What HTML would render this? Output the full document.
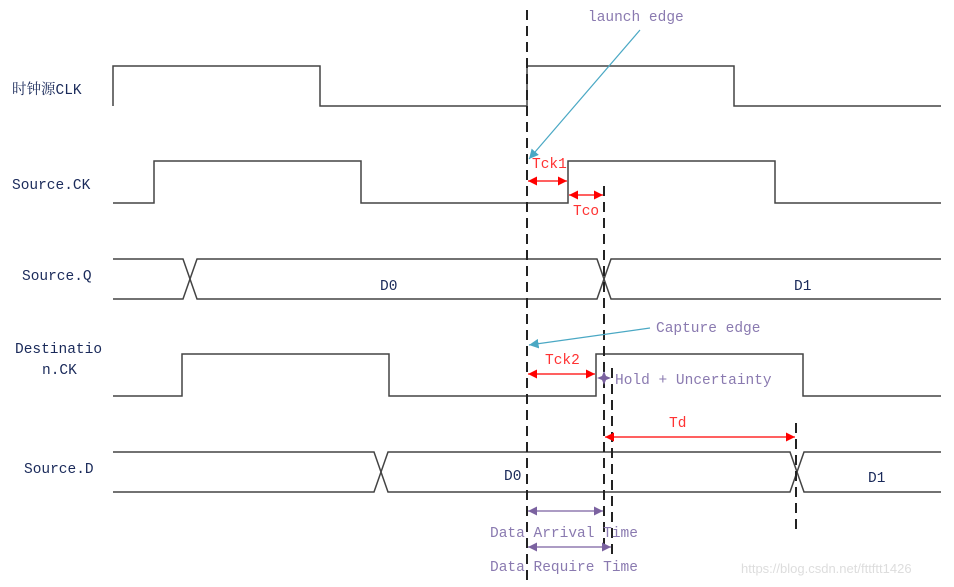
<!DOCTYPE html>
<html><head><meta charset="utf-8"><style>
html,body{margin:0;padding:0;background:#fff}
svg{display:block}
text{font-family:"Liberation Mono","Noto Serif CJK SC",monospace;font-size:14.5px}
</style></head><body>
<svg width="954" height="587" viewBox="0 0 954 587" xmlns="http://www.w3.org/2000/svg">
<defs>
<marker id="ar" viewBox="0 0 10 10" refX="10" refY="5" markerWidth="7" markerHeight="7" orient="auto-start-reverse"><path d="M0,0L10,5L0,10z" fill="#f00"/></marker>
<marker id="ap" viewBox="0 0 10 10" refX="10" refY="5" markerWidth="7" markerHeight="7" orient="auto-start-reverse"><path d="M0,0L10,5L0,10z" fill="#7b62a0"/></marker>
<marker id="ab" viewBox="0 0 10 10" refX="10" refY="5" markerWidth="8" markerHeight="8" orient="auto"><path d="M0,0L10,5L0,10z" fill="#4aa8c4"/></marker>
</defs>
<g fill="none" stroke="#444" stroke-width="1.5">
<polyline points="113,106 113,66 320,66 320,106 527,106 527,66 734,66 734,106 941,106"/>
<polyline points="113,203 154,203 154,161 361,161 361,203 568,203 568,161 775,161 775,203 941,203"/>
<polyline points="113,259 183,259 197,299 597,299 611,259 941,259"/>
<polyline points="113,299 183,299 197,259 597,259 611,299 941,299"/>
<polyline points="113,396 182,396 182,354 389,354 389,396 596,396 596,354 803,354 803,396 941,396"/>
<polyline points="113,452 374,452 388,492 790,492 804,452 941,452"/>
<polyline points="113,492 374,492 388,452 790,452 804,492 941,492"/>
</g>
<g stroke="#222" stroke-width="2" stroke-dasharray="10,6" fill="none">
<line x1="527" y1="10" x2="527" y2="580"/>
<line x1="604" y1="186" x2="604" y2="545"/>
<line x1="612" y1="368" x2="612" y2="560"/>
<line x1="796" y1="423" x2="796" y2="535"/>
</g>
<g stroke="#f00" stroke-width="1.3">
<line x1="528" y1="181" x2="567" y2="181" marker-start="url(#ar)" marker-end="url(#ar)"/>
<line x1="569" y1="195" x2="603" y2="195" marker-start="url(#ar)" marker-end="url(#ar)"/>
<line x1="528" y1="374" x2="595" y2="374" marker-start="url(#ar)" marker-end="url(#ar)"/>
<line x1="605" y1="437" x2="795" y2="437" marker-start="url(#ar)" marker-end="url(#ar)"/>
</g>
<g stroke="#7b62a0" stroke-width="1.3">
<line x1="528" y1="511" x2="603" y2="511" marker-start="url(#ap)" marker-end="url(#ap)"/>
<line x1="528" y1="547" x2="611" y2="547" marker-start="url(#ap)" marker-end="url(#ap)"/>
</g>
<path d="M604,371 L606,376 L611,378 L606,380 L604,385 L602,380 L597,378 L602,376 Z" fill="#7b62a0"/>
<g stroke="#4aa8c4" stroke-width="1.2">
<line x1="640" y1="30" x2="529" y2="159" marker-end="url(#ab)"/>
<line x1="650" y1="328" x2="529" y2="345" marker-end="url(#ab)"/>
</g>
<g fill="#1a2a5a">
<text x="12" y="94">时钟源CLK</text>
<text x="12" y="189">Source.CK</text>
<text x="22" y="280">Source.Q</text>
<text x="15" y="353">Destinatio</text>
<text x="42" y="374">n.CK</text>
<text x="24" y="473">Source.D</text>
<text x="380" y="290">D0</text>
<text x="794" y="290">D1</text>
<text x="504" y="480">D0</text>
<text x="868" y="482">D1</text>
</g>
<g fill="#f33">
<text x="532" y="168">Tck1</text>
<text x="573" y="215">Tco</text>
<text x="545" y="364">Tck2</text>
<text x="669" y="427">Td</text>
</g>
<g fill="#8a7ab0">
<text x="588" y="21">launch edge</text>
<text x="656" y="332">Capture edge</text>
<text x="615" y="384">Hold + Uncertainty</text>
<text x="490" y="537">Data Arrival Time</text>
<text x="490" y="571">Data Require Time</text>
</g>
<text x="741" y="573" fill="#ddd" style="font-family:'Liberation Sans',sans-serif;font-size:13px">https://blog.csdn.net/fttftt1426</text>
</svg>
</body></html>
